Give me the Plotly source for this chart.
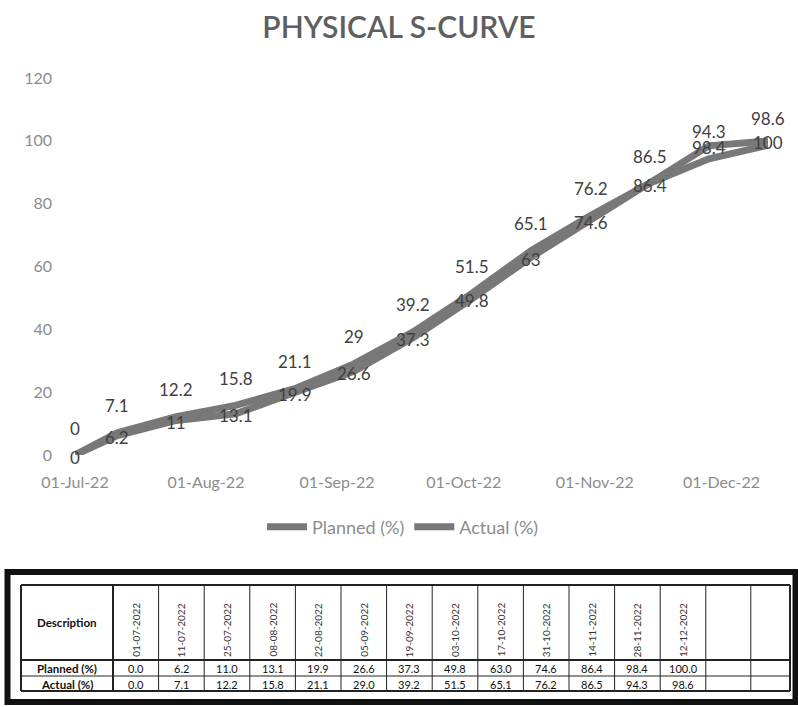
import plotly.graph_objects as go
import pandas as pd

# ---- data ----
dates = ["2022-07-01", "2022-07-11", "2022-07-25", "2022-08-08", "2022-08-22",
         "2022-09-05", "2022-09-19", "2022-10-03", "2022-10-17", "2022-10-31",
         "2022-11-14", "2022-11-28", "2022-12-12"]
planned = [0.0, 6.2, 11.0, 13.1, 19.9, 26.6, 37.3, 49.8, 63.0, 74.6, 86.4, 98.4, 100.0]
actual = [0.0, 7.1, 12.2, 15.8, 21.1, 29.0, 39.2, 51.5, 65.1, 76.2, 86.5, 94.3, 98.6]
series_names = ["Planned (%)", "Actual (%)"]
y_ticks = [0, 20, 40, 60, 80, 100, 120]
title = "PHYSICAL S-CURVE"

# ---- layout geometry (pixels) ----
FW, FH = 798, 707
L, R, T, B = 75, 768, 78, 455
W, H = R - L, B - T
px2x = lambda px: (px - L) / W
py2y = lambda py: (B - py) / H

FONT = "Lato"
LINE_COLOR = "#787878"
LABEL_COLOR = "#404040"
AXIS_COLOR = "#8c8c8c"

fig = go.Figure()
fig.add_trace(go.Scatter(x=dates, y=actual, name=series_names[1], mode="lines",
                         line=dict(color=LINE_COLOR, width=7), showlegend=True))
fig.add_trace(go.Scatter(x=dates, y=planned, name=series_names[0], mode="lines",
                         line=dict(color=LINE_COLOR, width=7), showlegend=True))

annotations = []
for d, p, a in zip(dates, planned, actual):
    annotations.append(dict(x=d, y=p, xref="x", yref="y", text=f"{p:g}", showarrow=False,
                            xanchor="center", yanchor="middle", yshift=-2,
                            font=dict(family=FONT, size=17, color=LABEL_COLOR)))
    annotations.append(dict(x=d, y=a, xref="x", yref="y", text=f"{a:g}", showarrow=False,
                            xanchor="center", yanchor="middle", yshift=27,
                            font=dict(family=FONT, size=17, color=LABEL_COLOR)))

# ---- table (drawn with shapes + annotations) ----
shapes = []
tab_left, desc_right = 21, 113
col_w = 45.6
col_edges = [tab_left, desc_right] + [desc_right + col_w * (k + 1) for k in range(len(dates))]
col_edges += [col_edges[-1] + 45, 790]
row_edges = [585, 660, 676, 691]

def line(x0, y0, x1, y1, w=1, c="#222"):
    shapes.append(dict(type="line", xref="paper", yref="paper",
                       x0=px2x(x0), y0=py2y(y0), x1=px2x(x1), y1=py2y(y1),
                       line=dict(color=c, width=w)))

# outer frame
shapes.append(dict(type="rect", xref="paper", yref="paper",
                   x0=px2x(7.5), x1=px2x(795.5), y0=py2y(572), y1=py2y(702),
                   line=dict(color="#111", width=6)))
# table grid
for i, xe in enumerate(col_edges):
    line(xe, row_edges[0], xe, row_edges[-1], w=2 if i in (0, 1, len(col_edges) - 1) else 1)
for i, ye in enumerate(row_edges):
    line(col_edges[0], ye, col_edges[-1], ye, w=2 if i in (0, 1, len(row_edges) - 1) else 1)

def cell_text(cx_px, cy_px, text, font, angle=0):
    annotations.append(dict(x=px2x(cx_px), y=py2y(cy_px), xref="paper", yref="paper",
                            text=text, showarrow=False, textangle=angle,
                            xanchor="center", yanchor="middle", font=font))

tfont = dict(family=FONT, size=11, color="#111")
bfont = dict(family=FONT, size=11.5, color="#111", weight="bold")
desc_cx = (col_edges[0] + col_edges[1]) / 2
cell_text(desc_cx, 622, "Description", bfont)
cell_text(desc_cx, 668, series_names[0], bfont)
cell_text(desc_cx, 684, series_names[1], bfont)
for k, (d, p, a) in enumerate(zip(dates, planned, actual)):
    cx = (col_edges[k + 1] + col_edges[k + 2]) / 2
    cell_text(cx, 630, pd.Timestamp(d).strftime("%d-%m-%Y"),
              dict(family=FONT, size=10, color="#333"), angle=-90)
    cell_text(cx, 668, f"{p:.1f}", tfont)
    cell_text(cx, 684, f"{a:.1f}", tfont)

fig.update_layout(
    width=FW, height=FH,
    margin=dict(l=L, r=FW - R, t=T, b=FH - B, autoexpand=False),
    paper_bgcolor="white", plot_bgcolor="white",
    title=dict(text=title, x=0.5, xref="container", xanchor="center",
               y=1 - 27 / FH, yref="container", yanchor="middle",
               font=dict(family=FONT, size=30, color="#5f5f5f", weight=600)),
    xaxis=dict(range=[dates[0], dates[-1]], showgrid=False, zeroline=False, showline=False,
               tick0="2022-07-01", dtick="M1", tickformat="%d-%b-%y",
               ticklabelstandoff=16,
               tickfont=dict(family=FONT, size=16, color=AXIS_COLOR)),
    yaxis=dict(range=[0, 120], tickvals=y_ticks, showgrid=False, zeroline=False, showline=False,
               ticklabelstandoff=22,
               tickfont=dict(family=FONT, size=16, color=AXIS_COLOR)),
    legend=dict(orientation="h", x=px2x(403), y=py2y(527), xanchor="center", yanchor="middle",
                traceorder="reversed",
                font=dict(family=FONT, size=18, color=AXIS_COLOR), itemwidth=40),
    showlegend=True,
    shapes=shapes,
    annotations=annotations,
)

fig.write_html("out.html", config={"displayModeBar": False},
               post_script="document.body.style.margin='0';")
